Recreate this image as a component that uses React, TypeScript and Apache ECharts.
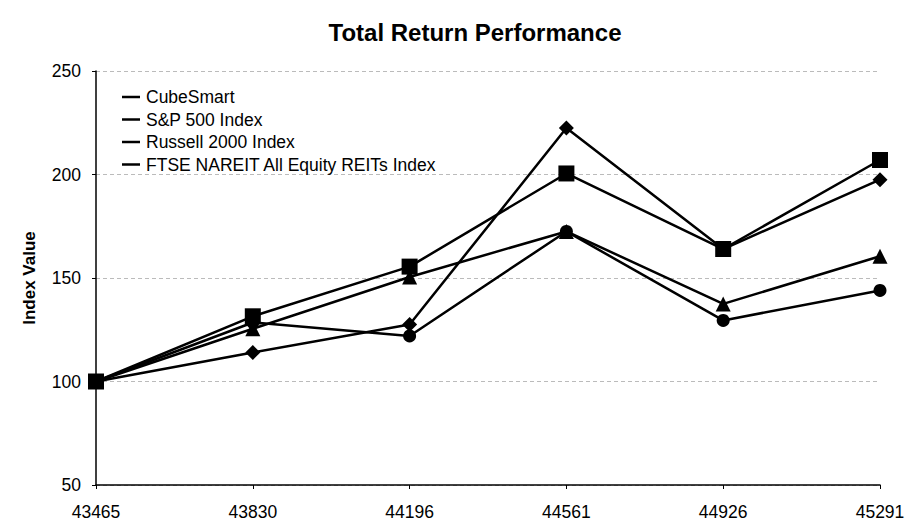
import React, { useEffect, useRef } from "react";
import * as echarts from "echarts";

const categories = ["43465", "43830", "44196", "44561", "44926", "45291"];
const cubeSmart = [100, 114, 127.5, 222.5, 164, 197.5];
const sp500 = [100, 131.5, 155.5, 200.5, 164, 207];
const russell2000 = [100, 125.5, 150.5, 172.5, 137.5, 160.5];
const ftseNareit = [100, 128.5, 122, 172.5, 129.5, 144];
const yTicks = { min: 50, max: 250, interval: 50 };

const FONT = "Liberation Sans, Arial, sans-serif";

export default function App() {
  const ref = useRef<HTMLDivElement>(null);
  useEffect(() => {
    if (!ref.current) return;
    const chart = echarts.init(ref.current, null, { renderer: "svg" });
    const mk = (name: string, data: number[], symbol: string, size: number) => ({
      name,
      type: "line",
      data,
      symbol,
      symbolSize: size,
      showAllSymbol: true,
      lineStyle: { color: "#000", width: 2.5 },
      itemStyle: { color: "#000" },
      z: 3,
    });
    chart.setOption({
      animation: false,
      backgroundColor: "#fff",
      textStyle: { fontFamily: FONT },
      title: {
        text: "Total Return Performance",
        left: 475,
        textAlign: "center",
        top: 15,
        textStyle: { fontFamily: FONT, fontSize: 24, fontWeight: "bold", color: "#000" },
      },
      legend: {
        orient: "vertical",
        left: 122,
        top: 87,
        padding: 0,
        itemWidth: 18,
        itemHeight: 2.5,
        itemGap: 2.5,
        icon: "rect",
        textStyle: { fontFamily: FONT, fontSize: 17.5, lineHeight: 20, color: "#000", padding: [0, 0, 0, 1] },
        data: ["CubeSmart", "S&P 500 Index", "Russell 2000 Index", "FTSE NAREIT All Equity REITs Index"],
      },
      grid: { left: 96, right: 43, top: 71, bottom: 45 },
      xAxis: {
        type: "category",
        data: categories,
        boundaryGap: false,
        axisLine: { lineStyle: { color: "#000", width: 1.5 } },
        axisTick: { alignWithLabel: true, length: 4, lineStyle: { color: "#000" } },
        axisLabel: { fontFamily: FONT, fontSize: 17.5, color: "#000", margin: 18 },
        splitLine: { show: false },
      },
      yAxis: {
        type: "value",
        min: yTicks.min,
        max: yTicks.max,
        interval: yTicks.interval,
        name: "Index Value",
        nameLocation: "middle",
        nameGap: 58,
        nameTextStyle: { fontFamily: FONT, fontSize: 17, fontWeight: "bold", color: "#000" },
        axisLine: { show: true, lineStyle: { color: "#000", width: 1.5 } },
        axisTick: { show: true, length: 4, lineStyle: { color: "#000" } },
        axisLabel: { fontFamily: FONT, fontSize: 17.5, color: "#000", margin: 15 },
        splitLine: { show: true, lineStyle: { color: "#bbb", type: [4, 3], width: 1 } },
      },
      series: [
        mk("CubeSmart", cubeSmart, "diamond", 15),
        mk("S&P 500 Index", sp500, "rect", 16),
        mk("Russell 2000 Index", russell2000, "triangle", 15),
        mk("FTSE NAREIT All Equity REITs Index", ftseNareit, "circle", 13),
      ],
    });
    chart.setOption({ title: { left: 470 } });
    return () => chart.dispose();
  }, []);
  return (
    <div
      ref={ref}
      style={{ position: "fixed", left: 0, top: 0, width: 923, height: 530 }}
    />
  );
}
